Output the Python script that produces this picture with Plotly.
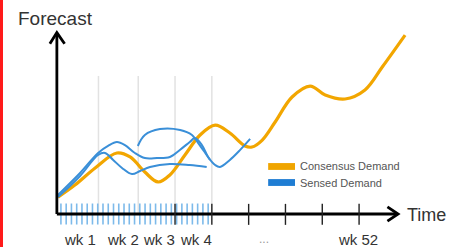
import plotly.graph_objects as go

# ---- data (x in weeks, y in arbitrary forecast units) ----
consensus_x = [-0.18, 0.28, 0.83, 1.42, 1.78, 2.18, 2.54, 2.86, 3.27, 3.68, 4.09, 4.49, 4.90, 5.09,
               5.37, 5.72, 6.18, 6.67, 7.08, 7.62, 8.16, 8.63, 9.25]
consensus_y = [9.4, 16.1, 25.6, 33.9, 31.7, 23.3, 17.8, 21.7, 32.8, 43.9, 49.4, 45.0, 37.8, 37.2,
               41.1, 51.1, 65.0, 71.1, 66.1, 63.9, 68.9, 81.7, 99.4]

sensed_a_x = [-0.18, 0.42, 0.91, 1.18, 1.42, 1.64, 1.91, 2.18, 2.51, 2.86, 3.13, 3.40, 3.54, 3.73,
              3.90, 4.09, 4.22, 4.49, 4.77, 5.04]
sensed_a_y = [10.6, 22.8, 33.9, 37.8, 40.0, 38.3, 33.9, 31.1, 31.1, 31.7, 35.6, 40.0, 42.2, 38.3,
              31.7, 27.2, 26.1, 30.0, 35.6, 41.7]

sensed_b_x = [-0.18, 0.42, 0.91, 1.10, 1.32, 1.56, 1.83, 2.05, 2.32, 2.86, 3.40, 3.86]
sensed_b_y = [9.4, 21.1, 32.8, 33.9, 30.0, 25.6, 22.2, 23.9, 26.1, 27.8, 27.2, 26.1]

sensed_c_x = [1.99, 2.18, 2.59, 3.14, 3.46, 3.63, 3.82, 3.95]
sensed_c_y = [37.8, 43.9, 47.2, 46.7, 43.9, 39.4, 33.9, 30.0]

sensed_days = [0, 1, 2, 3, 4, 5, 6, 7, 8, 9, 10, 11, 12, 13, 14, 15, 16, 17, 18, 19, 20,
               21, 22, 23, 24, 25, 26, 27, 28]
week_grid = [0.92, 2.0, 3.0, 4.0]
week_ticks = [3, 4, 5, 6, 7, 8]
week_labels = ["wk 1", "wk 2", "wk 3", "wk 4", "...", "wk 52"]
week_label_x = [0.42, 1.58, 2.56, 3.57, 5.42, 7.97]
legend_labels = ["Consensus Demand", "Sensed Demand"]

ORANGE = "#F2A600"
BLUE = "#3A8FD8"
FONT = "Liberation Sans, Arial, sans-serif"

X0, X1 = -1.755, 10.47
Y0, Y1 = -18.33, 118.9
AX_X = -0.21

fig = go.Figure()

# gridlines
for g in week_grid:
    fig.add_trace(go.Scatter(x=[g, g], y=[0, 76.7], mode="lines",
                             line=dict(color="#E2E2E2", width=1.5), hoverinfo="skip"))

# sensed rug (daily)
fig.add_trace(go.Scatter(x=[d / 7 - 0.1 for d in sensed_days], y=[0] * len(sensed_days),
                         mode="markers",
                         marker=dict(symbol="line-ns-open", size=15, color="#7DBAEA",
                                     line=dict(color="#7DBAEA", width=1.6)),
                         hoverinfo="skip"))

# curves
fig.add_trace(go.Scatter(x=consensus_x, y=consensus_y, mode="lines", line_shape="spline",
                         line=dict(color=ORANGE, width=3.2), name=legend_labels[0]))
for xs, ys in [(sensed_a_x, sensed_a_y), (sensed_b_x, sensed_b_y), (sensed_c_x, sensed_c_y)]:
    fig.add_trace(go.Scatter(x=xs, y=ys, mode="lines", line_shape="spline",
                             line=dict(color=BLUE, width=2), name=legend_labels[1]))

# axes with arrowheads
fig.add_trace(go.Scatter(x=[AX_X, AX_X], y=[0, 100.6], mode="lines",
                         line=dict(color="black", width=2.8), hoverinfo="skip"))
fig.add_trace(go.Scatter(x=[AX_X - 0.19, AX_X, AX_X + 0.21], y=[94.6, 100.8, 94.6], mode="lines",
                         line=dict(color="black", width=2.8), hoverinfo="skip"))
fig.add_trace(go.Scatter(x=[AX_X, 9.04], y=[0, 0], mode="lines",
                         line=dict(color="black", width=2.8), hoverinfo="skip"))
fig.add_trace(go.Scatter(x=[8.77, 9.06, 8.77], y=[4.0, 0, -4.0], mode="lines",
                         line=dict(color="black", width=2.8), hoverinfo="skip"))

# week ticks on time axis
fig.add_trace(go.Scatter(x=week_ticks, y=[-0.2] * len(week_ticks), mode="markers",
                         marker=dict(symbol="line-ns-open", size=15, color="#222",
                                     line=dict(color="#222", width=1.4)),
                         hoverinfo="skip"))

anns = []
for lab, lx in zip(week_labels, week_label_x):
    anns.append(dict(x=lx, y=-13.9, text=lab, showarrow=False, xanchor="center", yanchor="middle",
                     font=dict(family=FONT, size=15 if lab != "..." else 12,
                               color="#333" if lab != "..." else "#9A9A9A")))
anns.append(dict(x=-1.33, y=108.9, text="Forecast", showarrow=False, xanchor="left",
                 yanchor="middle", font=dict(family=FONT, size=19, color="#333")))
anns.append(dict(x=9.24, y=-0.6, text="Time", showarrow=False, xanchor="left",
                 yanchor="middle", font=dict(family=FONT, size=18, color="#333")))

# custom legend
shapes = []
for i, (col, lab) in enumerate(zip(["#F0A500", "#1F7DD3"], legend_labels)):
    yc = 26.4 - i * 8.9
    shapes.append(dict(type="rect", xref="x", yref="y", x0=5.53, x1=6.26, y0=yc - 1.9, y1=yc + 1.9,
                       fillcolor=col, line=dict(width=0)))
    anns.append(dict(x=6.34, y=yc, text=lab, showarrow=False, xanchor="left", yanchor="middle",
                     font=dict(family=FONT, size=11, color="#555")))

# red edge at the left of the picture
shapes.append(dict(type="rect", xref="paper", yref="paper", x0=0, x1=3 / 450, y0=0, y1=1,
                   fillcolor="#FF1A1A", line=dict(width=0)))

fig.update_layout(
    width=450, height=247, margin=dict(l=0, r=0, t=0, b=0),
    paper_bgcolor="white", plot_bgcolor="white", showlegend=False,
    xaxis=dict(range=[X0, X1], visible=False, fixedrange=True),
    yaxis=dict(range=[Y0, Y1], visible=False, fixedrange=True),
    annotations=anns, shapes=shapes,
)

fig.write_html("out.html", config={"displayModeBar": False},
               post_script="document.body.style.margin='0';document.body.style.overflow='hidden';")
